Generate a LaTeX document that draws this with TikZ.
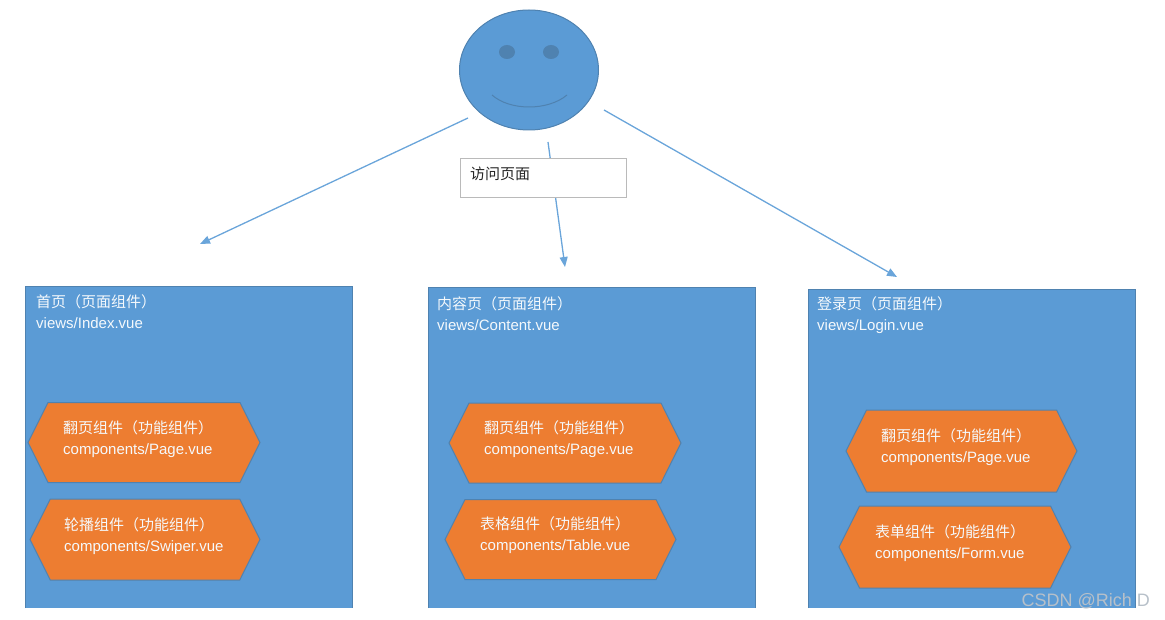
\documentclass[tikz,border=0pt]{standalone}
\usepackage{fontspec}
\setmainfont{Liberation Sans}
\newfontfamily\cjk{Noto Sans CJK SC}
\usetikzlibrary{arrows.meta,shapes.geometric,shapes.symbols}
\definecolor{pageblue}{HTML}{5B9BD5}
\definecolor{edgeblue}{HTML}{4F82B0}
\definecolor{arrowblue}{HTML}{6AA5DA}
\definecolor{comporange}{HTML}{ED7D31}
\tikzset{
	pagebox/.style={rectangle, fill=pageblue, inner sep=0pt, outer sep=0pt, minimum width=327, minimum height=320},
	hexbox/.style={signal, signal to=west and east, signal pointer angle=127, draw=edgeblue, line width=1pt, fill=comporange, inner sep=0pt, outer sep=0pt, minimum width=232, minimum height=80},
	whitetext/.style={anchor=west, align=left, inner sep=0pt, text=white!94!pageblue, font=\fontsize{15}{21}\selectfont},
	visit/.style={draw=arrowblue, line width=1.3pt, -{Triangle[length=10,width=8]}}
}

\begin{document}
\begin{tikzpicture}[x=1pt, y=-1pt]
	%%%%% START %%%%%
	\useasboundingbox (0, 0) rectangle (1165, 620);
	
	% pages
	\node[pagebox, minimum height=321] (indexpage) at (189, 447.5) {};
	\node[pagebox] (contentpage) at (591.5, 448) {};
	\node[pagebox, minimum height=318] (loginpage) at (972, 449) {};
	\foreach \page in {indexpage, contentpage, loginpage}
		\draw[edgeblue, line width=1pt] (\page.south west) -- (\page.north west) -- (\page.north east) -- (\page.south east);
	
	\node[whitetext] (indextitle) at (36, 312) {{\cjk 首页（页面组件）}\\views/Index.vue};
	\node[whitetext] (contenttitle) at (437, 313.5) {{\cjk 内容页（页面组件）}\\views/Content.vue};
	\node[whitetext] (logintitle) at (817, 315.5) {{\cjk 登录页（页面组件）}\\views/Login.vue};
	
	% components
	\node[hexbox] (indexhexa) at (144, 442.5) {};
	\node[hexbox, minimum width=230, minimum height=81] (indexhexb) at (145, 539.5) {};
	\node[hexbox] (contenthexa) at (565, 443) {};
	\node[hexbox, minimum width=231] (contenthexb) at (560.5, 539.5) {};
	\node[hexbox, minimum width=231, minimum height=82] (loginhexa) at (961.5, 451) {};
	\node[hexbox, minimum height=82] (loginhexb) at (955, 547) {};
	
	\node[whitetext] (indextexta) at (63, 439) {{\cjk 翻页组件（功能组件）}\\components/Page.vue};
	\node[whitetext] (indextextb) at (64, 536) {{\cjk 轮播组件（功能组件）}\\components/Swiper.vue};
	\node[whitetext] (contenttexta) at (484, 439) {{\cjk 翻页组件（功能组件）}\\components/Page.vue};
	\node[whitetext] (contenttextb) at (480, 535) {{\cjk 表格组件（功能组件）}\\components/Table.vue};
	\node[whitetext] (logintexta) at (881, 447) {{\cjk 翻页组件（功能组件）}\\components/Page.vue};
	\node[whitetext] (logintextb) at (875, 543) {{\cjk 表单组件（功能组件）}\\components/Form.vue};
	
	% visitor
	\node[ellipse, draw=edgeblue, line width=1pt, fill=pageblue, inner sep=0pt, outer sep=0pt, minimum width=139, minimum height=120] (face) at (529, 70) {};
	\fill[edgeblue] (507, 52) ellipse (8 and 7);
	\fill[edgeblue] (551, 52) ellipse (8 and 7);
	\draw[edgeblue, line width=1pt] (492, 95) .. controls (510, 111) and (548, 111) .. (567, 95);
	
	% arrows
	\coordinate (leftfrom) at (468, 118);
	\coordinate (leftto) at (200, 244);
	\coordinate (midfrom) at (548, 142);
	\coordinate (midto) at (565, 267);
	\coordinate (rightfrom) at (604, 110);
	\coordinate (rightto) at (897, 277);
	\draw[visit] (leftfrom) -- (leftto);
	\draw[visit] (midfrom) -- (midto);
	\draw[visit] (rightfrom) -- (rightto);
	
	\node[rectangle, draw=black!27, line width=1pt, fill=white, inner sep=0pt, outer sep=0pt, minimum width=166, minimum height=39] (visitbox) at (543, 178) {};
	\node[anchor=west, inner sep=0pt, font=\fontsize{15}{18}\selectfont\cjk, text=black!85] (visittext) at (470, 174) {访问页面};
	
	\node[anchor=east, inner sep=0pt, text=black!22!white!85!pageblue, font=\fontsize{18}{20}\selectfont] (watermark) at (1150, 601) {CSDN @Rich D};
	
	%%%%% END %%%%%
\end{tikzpicture}
\end{document}
